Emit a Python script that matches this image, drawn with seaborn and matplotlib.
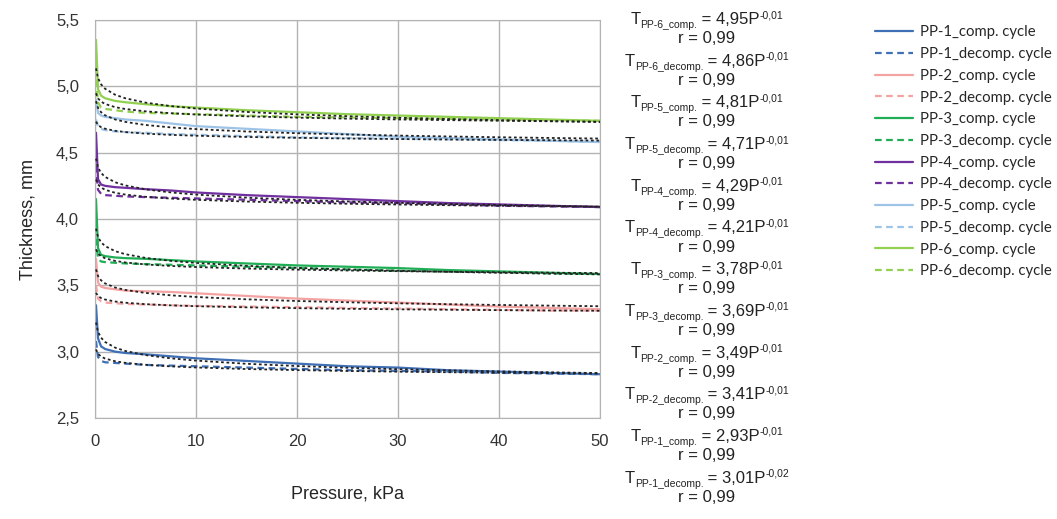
import numpy as np
import matplotlib
matplotlib.use("Agg")
import matplotlib.pyplot as plt
import seaborn as sns

# pressure, kPa (shared by all series)
pressure = [0.1, 0.3, 0.6, 1, 2, 3, 5, 7.5, 10, 15, 20, 25, 30, 35, 40, 45, 50]

# thickness, mm
pp1_comp = [3.35, 3.10, 3.04, 3.02, 3.00, 2.99, 2.98, 2.965, 2.95, 2.93, 2.91, 2.89, 2.88, 2.86, 2.85, 2.84, 2.83]
pp1_decomp = [3.08, 2.96, 2.93, 2.92, 2.915, 2.91, 2.90, 2.895, 2.89, 2.88, 2.87, 2.86, 2.855, 2.85, 2.84, 2.835, 2.83]
pp2_comp = [3.70, 3.52, 3.49, 3.48, 3.47, 3.46, 3.455, 3.45, 3.44, 3.42, 3.40, 3.385, 3.37, 3.355, 3.34, 3.33, 3.32]
pp2_decomp = [3.50, 3.40, 3.38, 3.37, 3.365, 3.36, 3.355, 3.35, 3.345, 3.34, 3.335, 3.33, 3.325, 3.32, 3.315, 3.31, 3.31]
pp3_comp = [4.15, 3.78, 3.73, 3.72, 3.71, 3.705, 3.70, 3.69, 3.68, 3.665, 3.65, 3.64, 3.63, 3.615, 3.605, 3.595, 3.585]
pp3_decomp = [3.85, 3.70, 3.68, 3.675, 3.67, 3.665, 3.66, 3.655, 3.65, 3.64, 3.63, 3.62, 3.61, 3.605, 3.60, 3.59, 3.585]
pp4_comp = [4.65, 4.30, 4.26, 4.25, 4.24, 4.235, 4.225, 4.215, 4.20, 4.18, 4.165, 4.15, 4.135, 4.12, 4.11, 4.10, 4.09]
pp4_decomp = [4.40, 4.22, 4.19, 4.18, 4.175, 4.17, 4.165, 4.16, 4.155, 4.145, 4.135, 4.125, 4.12, 4.11, 4.10, 4.095, 4.09]
pp5_comp = [4.90, 4.80, 4.78, 4.77, 4.76, 4.75, 4.74, 4.72, 4.70, 4.68, 4.66, 4.64, 4.62, 4.61, 4.60, 4.59, 4.58]
pp5_decomp = [4.75, 4.70, 4.68, 4.67, 4.66, 4.655, 4.65, 4.64, 4.635, 4.625, 4.615, 4.61, 4.605, 4.60, 4.595, 4.59, 4.58]
pp6_comp = [5.35, 4.98, 4.93, 4.91, 4.89, 4.88, 4.865, 4.85, 4.84, 4.82, 4.805, 4.79, 4.78, 4.77, 4.76, 4.75, 4.74]
pp6_decomp = [5.05, 4.88, 4.84, 4.83, 4.82, 4.81, 4.80, 4.795, 4.79, 4.78, 4.77, 4.765, 4.76, 4.755, 4.75, 4.745, 4.74]

samples = ["PP-1", "PP-2", "PP-3", "PP-4", "PP-5", "PP-6"]
comp = [pp1_comp, pp2_comp, pp3_comp, pp4_comp, pp5_comp, pp6_comp]
decomp = [pp1_decomp, pp2_decomp, pp3_decomp, pp4_decomp, pp5_decomp, pp6_decomp]
colors = ["#3f6fb5", "#f4a3a3", "#1fae55", "#7030a0", "#9dc3e6", "#92d050"]

# equation labels shown beside the chart (top to bottom)
eq_names = ["PP-6_comp.", "PP-6_decomp.", "PP-5_comp.", "PP-5_decomp.", "PP-4_comp.", "PP-4_decomp.",
            "PP-3_comp.", "PP-3_decomp.", "PP-2_comp.", "PP-2_decomp.", "PP-1_comp.", "PP-1_decomp."]
eq_coef = ["4,95", "4,86", "4,81", "4,71", "4,29", "4,21", "3,78", "3,69", "3,49", "3,41", "2,93", "3,01"]
eq_exp = ["-0,01"] * 11 + ["-0,02"]
eq_r = ["0,99"] * 12

sns.set_style("whitegrid")
plt.rcParams["font.family"] = ["Liberation Sans", "DejaVu Sans"]

W, H = 1057, 519
fig = plt.figure(figsize=(W / 100, H / 100), dpi=100)
ax = fig.add_axes([95 / W, 1 - 418 / H, 505 / W, 398 / H])

P = np.array(pressure)
for name, c, d, col in zip(samples, comp, decomp, colors):
    sns.lineplot(x=pressure, y=c, ax=ax, color=col, lw=1.6, label=name + "_comp. cycle")
    sns.lineplot(x=pressure, y=d, ax=ax, color=col, lw=1.6, linestyle=(0, (3, 2)),
                 label=name + "_decomp. cycle")

# power trendlines (fitted from each series)
for series in comp + decomp:
    b, lna = np.polyfit(np.log(P), np.log(series), 1)
    ax.plot(P, np.exp(lna) * P ** b, color="#222222", lw=1.3, linestyle=(0, (1.5, 1.5)), zorder=3)

ax.set_xlim(0, 50)
ax.set_ylim(2.5, 5.5)
ax.set_xticks(range(0, 51, 10))
ax.set_yticks(np.arange(2.5, 5.51, 0.5))
ax.set_yticklabels([f"{v:.1f}".replace(".", ",") for v in np.arange(2.5, 5.51, 0.5)])
ax.tick_params(labelsize=12, colors="#333333", pad=8)
ax.grid(color="#b3b3b3", lw=1)
for s in ax.spines.values():
    s.set_color("#b3b3b3")
ax.set_xlabel("Pressure, kPa", fontsize=13, labelpad=26)
ax.set_ylabel("Thickness, mm", fontsize=13, labelpad=14)

h, l = ax.get_legend_handles_labels()
fig.legend(h, l, loc="upper left", bbox_to_anchor=(862 / W, 1 - 12 / H), frameon=False,
           prop={"family": "Lato", "size": 10.7}, handlelength=2.5, labelspacing=0.52,
           handletextpad=0.5)
ax.get_legend().remove()

# equations: drawn piece by piece so subscripts keep plain hyphens and commas
fig.canvas.draw()
rend = fig.canvas.get_renderer()


def piece(x, y, s, size, dy=0):
    t = fig.text(x / W, 1 - (y + dy) / H, s, ha="left", va="baseline", fontsize=size, color="#222222")
    bb = t.get_window_extent(rend)
    return x + bb.width


for i in range(12):
    base = 24 + i * 41.7
    pieces = [("T", 12, 0), ("PP" + eq_names[i][2:], 7.5, 4), (" = " + eq_coef[i] + "P", 12, 0),
              (eq_exp[i], 7.5, -6)]
    widths = []
    for s, size, dy in pieces:
        t = fig.text(0, 0, s, fontsize=size)
        widths.append(t.get_window_extent(rend).width)
        t.remove()
    x = 707 - sum(widths) / 2
    for s, size, dy in pieces:
        x = piece(x, base, s, size, dy)
    fig.text(707 / W, 1 - (base + 19) / H, "r = " + eq_r[i], ha="center", va="baseline",
             fontsize=12, color="#222222")

fig.savefig("out.png", dpi=100)
